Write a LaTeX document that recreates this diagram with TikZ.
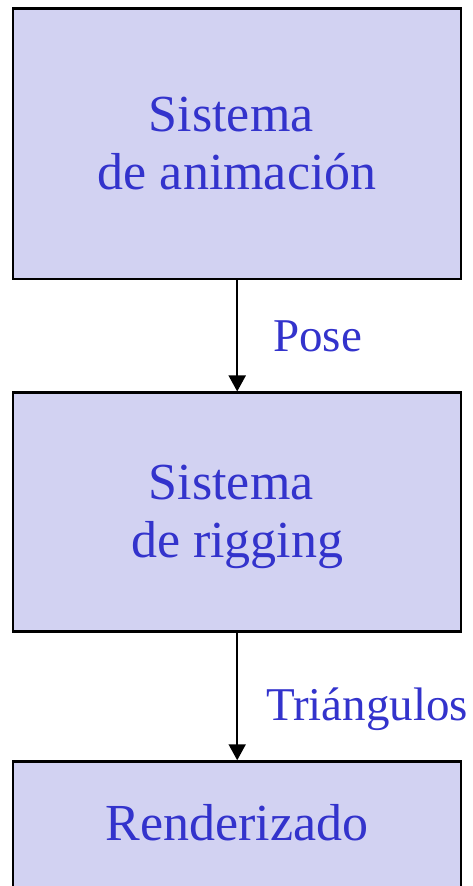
\documentclass[tikz,border=0pt]{standalone}
\usepackage{fontspec}
\setmainfont{Liberation Serif}
\usetikzlibrary{arrows.meta}
\definecolor{boxfill}{RGB}{210,210,242}
\definecolor{txtblue}{RGB}{51,51,204}
\tikzset{
  stagebox/.style={draw=black, line width=2.5pt, fill=boxfill, text=txtblue,
    minimum width=448pt, align=center, inner sep=0pt,
    text height=34pt, text depth=1.5pt,
    font=\fontsize{52}{58}\selectfont},
  twoline/.style={text height=92pt},
  flowarrow/.style={line width=2pt, -{Triangle[length=16pt,width=17pt]}},
  flowlabel/.style={text=txtblue, anchor=base west, inner sep=0pt,
    font=\fontsize{47}{58}\selectfont}
}
\begin{document}
\begin{tikzpicture}[x=1pt,y=-1pt]
\useasboundingbox (0,0) rectangle (473,886);
\clip (0,0) rectangle (473,886);
\fill[white] (0,0) rectangle (473,886);
\node[stagebox, twoline, minimum height=270.5pt] (anim) at (237.2,143.75) {Sistema\kern12pt\\de animación};
\node[stagebox, twoline, minimum height=238.6pt] (rig) at (237.2,512) {Sistema\kern12pt\\de rigging};
\node[stagebox, minimum height=126pt] (rend) at (237.2,824.5) {Renderizado};
\draw[flowarrow] (anim.south) -- (rig.north);
\draw[flowarrow] (rig.south) -- (rend.north);
\node[flowlabel] (pose) at (273,351) {Pose};
\node[flowlabel] (tri) at (266,720) {Triángulos};
\end{tikzpicture}
\end{document}
